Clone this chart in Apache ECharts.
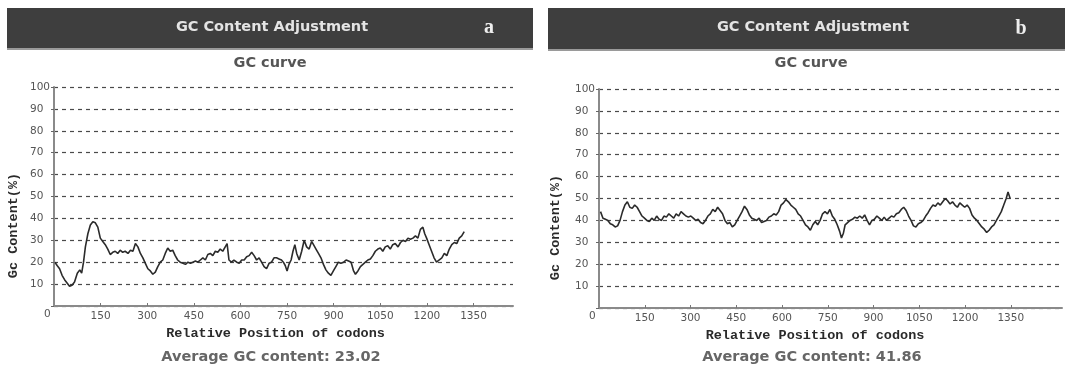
<!DOCTYPE html>
<html>
<head>
<meta charset="utf-8">
<script src="https://cdn.jsdelivr.net/npm/echarts@6/dist/echarts.min.js"></script>
<style>
  html, body { margin: 0; padding: 0; background: #ffffff; }
  #chart { width: 1065px; height: 368px; }
</style>
</head>
<body>
<div id="chart"></div>
<script>
// Panel texts
const headerTitle = 'GC Content Adjustment';
const panelLetters = ['a', 'b'];
const curveTitle = 'GC curve';
const xAxisTitle = 'Relative Position of codons';
const yAxisTitle = 'Gc Content(%)';
const averageLabels = ['Average GC content: 23.02', 'Average GC content: 41.86'];

// Axis ticks
const yTicks = [0, 10, 20, 30, 40, 50, 60, 70, 80, 90, 100];
const xTicks = [150, 300, 450, 600, 750, 900, 1050, 1200, 1350];
const xTickStep = 150;

// Panel a: sliding-window GC content along the codon positions
const posA = [3, 10, 18, 26, 34, 42, 50, 58, 66, 75, 83, 89, 95, 101, 109, 117, 125, 133, 141, 149,
  157, 165, 173, 181, 189, 197, 205, 213, 221, 229, 238, 246, 254, 262, 270, 278, 286, 294, 302, 310,
  318, 326, 334, 342, 350, 358, 366, 374, 382, 390, 398, 406, 415, 423, 431, 439, 447, 455, 463, 471,
  479, 487, 495, 503, 511, 519, 527, 535, 543, 551, 557, 563, 571, 579, 588, 596, 604, 612, 620, 628,
  636, 644, 652, 660, 668, 676, 684, 692, 700, 708, 716, 724, 732, 738, 744, 750, 756, 763, 769, 775,
  781, 789, 797, 805, 813, 821, 829, 835, 843, 851, 859, 867, 875, 883, 891, 899, 907, 915, 923, 932,
  940, 948, 956, 964, 970, 978, 986, 994, 1002, 1010, 1018, 1026, 1034, 1042, 1050, 1058, 1066, 1074,
  1082, 1090, 1098, 1107, 1115, 1123, 1131, 1139, 1147, 1155, 1163, 1171, 1179, 1187, 1193, 1199, 1207,
  1215, 1223, 1231, 1239, 1248, 1256, 1264, 1272, 1280, 1288, 1296, 1304, 1312, 1320];
const gcA = [20, 18.5, 17, 14, 12, 10.5, 9, 9.5, 11, 15, 16.5, 15, 20, 27, 33, 37, 38.5, 38, 36, 31,
  29.5, 28, 26, 23.5, 24.5, 25, 24, 25.5, 24.5, 25, 24, 25.5, 25, 28.5, 27, 24, 22, 19.5, 17, 16,
  14.5, 15.5, 18, 20, 21, 24, 26.5, 25, 25.5, 23, 21, 20, 19.5, 19, 20, 19.5, 20, 20.5, 20, 21,
  22, 21, 23.5, 24, 23, 25, 24.5, 26, 25, 27, 28.5, 21, 20, 21, 20, 19.5, 21, 21, 22.5, 23,
  24.5, 23, 21, 22, 20, 18, 17, 19.5, 20, 22, 22, 21.5, 21, 20, 18.5, 16, 19, 21, 25, 28,
  24, 21, 25, 30, 27, 26, 29.5, 28, 26, 24, 22, 19, 16.5, 15, 14, 16, 18, 20, 19.5, 20,
  21, 20.5, 20, 16, 14.5, 16, 18, 19, 20, 21, 21.5, 23, 25, 26, 26.5, 25, 27, 27.5,
  26, 28, 28.5, 27, 29, 30, 29.5, 31, 30.5, 31, 32, 31, 35, 36, 33, 31, 28,
  25, 22, 20, 21, 22, 24, 23, 26, 28, 29, 28.5, 31, 32, 34];

// Panel b: sliding-window GC content after adjustment
const posB = [5, 13, 21, 29, 37, 45, 53, 61, 69, 77, 85, 93, 101, 109, 117, 125, 133, 141, 149, 157,
  165, 173, 181, 189, 197, 205, 213, 221, 229, 237, 245, 253, 261, 269, 277, 285, 293, 301, 309, 317,
  325, 333, 341, 349, 357, 365, 373, 381, 389, 397, 405, 413, 421, 429, 437, 445, 453, 461, 469, 477,
  485, 493, 501, 509, 517, 525, 533, 541, 549, 557, 565, 573, 581, 589, 597, 605, 613, 621, 629, 637,
  645, 653, 661, 669, 677, 685, 693, 701, 709, 717, 725, 733, 741, 749, 757, 765, 773, 781, 789, 795,
  801, 807, 815, 823, 831, 839, 847, 855, 863, 871, 879, 887, 895, 903, 911, 919, 927, 935, 943, 951,
  959, 967, 975, 983, 991, 999, 1007, 1015, 1023, 1031, 1039, 1047, 1055, 1063, 1071, 1079, 1087, 1095,
  1103, 1111, 1119, 1127, 1135, 1143, 1151, 1159, 1167, 1175, 1183, 1191, 1199, 1207, 1215, 1223, 1231,
  1239, 1247, 1255, 1263, 1271, 1279, 1287, 1295, 1303, 1311, 1319, 1327, 1335, 1341, 1348];
const gcB = [44, 41, 40.5, 40, 38.5, 38, 37, 37.5, 40, 44, 47, 48.5, 46, 45.5, 47, 46, 44, 42, 41, 40,
  39.5, 41, 40, 42, 40.5, 40, 42, 41.5, 43, 42, 41, 43, 42, 44, 43, 42, 41.5, 42, 41, 40,
  40.5, 39, 38.5, 40, 42, 43, 45, 44, 46, 44.5, 43, 40, 38.5, 39, 37, 38, 40, 42, 44, 46.5,
  45, 42.5, 41, 40.5, 40, 41, 39, 39.5, 40, 41.5, 42, 43, 42.5, 44, 47, 48, 49.5, 48.5, 47, 46,
  45, 43, 42, 40, 38, 37, 35.5, 38, 39.5, 38, 40, 43, 44, 43, 45, 42, 40.5, 38, 35, 32,
  34, 38, 39, 40, 40.5, 41.5, 41, 42, 41, 42.5, 40, 38, 40, 40.5, 42, 41, 40, 41.5, 40, 41,
  42, 41.5, 43, 43.5, 45, 46, 44.5, 42, 40, 37.5, 37, 38.5, 39, 40, 42, 43.5, 45.5, 47,
  46.5, 48, 47, 48.5, 50, 49, 47.5, 48.5, 47, 46, 48, 47, 46, 47, 45.5, 42.5, 41,
  40, 38.5, 37, 36, 34.5, 35.5, 37, 38, 40, 42, 44, 47, 50, 53, 50];

const pairs = (xs, ys) => xs.map((x, i) => [x, ys[i]]);

const chart = echarts.init(document.getElementById('chart'), null, { renderer: 'canvas' });

const tickFont = { fontFamily: 'DejaVu Sans', fontSize: 10.5, color: '#555555' };
const nameFont = { fontFamily: 'Liberation Mono', fontWeight: 'bold', fontSize: 13.5, color: '#2a2a2a' };
const textFont = '"DejaVu Sans", sans-serif';

// Layout of the two panels (pixel geometry only)
const panels = [
  { left: 54, width: 459, top: 87, height: 219, xMax: 1477, headX: 7, headW: 526, headH: 40, cx: 272, letterX: 489, nameShift: 16, yNameGap: 33 },
  { left: 599, width: 463, top: 89, height: 219, xMax: 1518, headX: 548, headW: 517, headH: 41, cx: 813, letterX: 1021, nameShift: 31, yNameGap: 36 }
];

function yAxisFor(i) {
  return {
    type: 'value', gridIndex: i, min: yTicks[0], max: yTicks[yTicks.length - 1], interval: yTicks[1] - yTicks[0],
    name: yAxisTitle, nameLocation: 'middle', nameGap: panels[i].yNameGap,
    nameTextStyle: Object.assign({}, nameFont, { padding: [0, 58, 0, 0] }),
    axisLine: { show: true, lineStyle: { color: '#8a8a8a', width: 2 } },
    axisTick: { show: true, length: 3, lineStyle: { color: '#666' } },
    axisLabel: Object.assign({}, tickFont, {
      align: 'left', margin: 24,
      formatter: v => (v === 0 ? '{z|0}' : String(v)),
      rich: { z: Object.assign({}, tickFont, { padding: [17, 0, 0, 14] }) }
    }),
    splitLine: { show: true, lineStyle: { color: '#4a4a4a', width: 1.2, type: [4, 4] } }
  };
}

function xAxisFor(i) {
  return {
    type: 'value', gridIndex: i, min: 0, max: panels[i].xMax, interval: xTickStep,
    name: xAxisTitle, nameLocation: 'middle', nameGap: 20,
    nameTextStyle: Object.assign({}, nameFont, { padding: [0, panels[i].nameShift, 0, 0] }),
    axisLine: { show: true, lineStyle: { color: '#8a8a8a', width: 2 } },
    axisTick: { show: true, inside: true, length: 3, lineStyle: { color: '#777' }, customValues: xTicks },
    axisLabel: Object.assign({}, tickFont, {
      margin: 5, customValues: xTicks,
      formatter: v => (xTicks.indexOf(v) >= 0 ? String(v) : '')
    }),
    splitLine: { show: false }
  };
}

const graphics = [];
panels.forEach((p, i) => {
  graphics.push({ type: 'rect', shape: { x: p.headX, y: 8, width: p.headW, height: p.headH }, style: { fill: '#3e3e3e' }, silent: true });
  graphics.push({ type: 'rect', shape: { x: p.headX, y: 8 + p.headH, width: p.headW, height: 2 }, style: { fill: '#9a9a9a' }, silent: true });
  graphics.push({ type: 'text', style: { text: headerTitle, x: p.cx, y: 8 + p.headH / 2 - 1, align: 'center', verticalAlign: 'middle',
    font: 'bold 14.5px ' + textFont, fill: '#e4e4e4' } });
  graphics.push({ type: 'text', style: { text: panelLetters[i], x: p.letterX, y: 8 + p.headH / 2, align: 'center', verticalAlign: 'middle',
    font: 'bold 20px "Liberation Serif", serif', fill: '#eeeeee' } });
  graphics.push({ type: 'text', style: { text: curveTitle, x: p.cx - 2, y: 63, align: 'center', verticalAlign: 'middle',
    font: 'bold 14.5px ' + textFont, fill: '#555555' } });
  graphics.push({ type: 'text', style: { text: averageLabels[i], x: p.cx - 1, y: 357, align: 'center', verticalAlign: 'middle',
    font: 'bold 14.5px ' + textFont, fill: '#666666' } });
});

chart.setOption({
  animation: false,
  backgroundColor: '#ffffff',
  grid: panels.map(p => ({ left: p.left, top: p.top, width: p.width, height: p.height, containLabel: false })),
  xAxis: [xAxisFor(0), xAxisFor(1)],
  yAxis: [yAxisFor(0), yAxisFor(1)],
  series: [
    { type: 'line', xAxisIndex: 0, yAxisIndex: 0, data: pairs(posA, gcA), showSymbol: false,
      lineStyle: { color: '#2b2b2b', width: 1.6 }, z: 3 },
    { type: 'line', xAxisIndex: 1, yAxisIndex: 1, data: pairs(posB, gcB), showSymbol: false,
      lineStyle: { color: '#2b2b2b', width: 1.6 }, z: 3 }
  ],
  graphic: graphics
});
</script>
</body>
</html>
